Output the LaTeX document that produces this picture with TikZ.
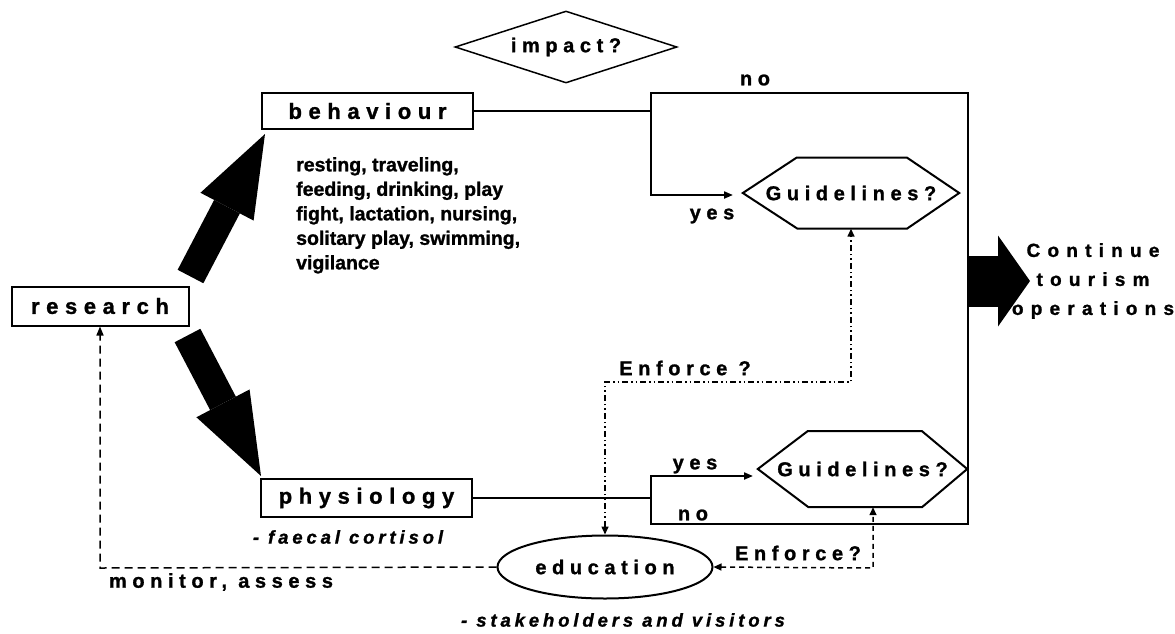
\documentclass[tikz,border=0pt]{standalone}
\usepackage{fontspec}
\setmainfont{Liberation Sans}[FakeBold=1.2]
\newcommand\spaced[2]{\fontsize{#1}{#1}\selectfont\bfseries\addfontfeatures{LetterSpace=#2}}
\usetikzlibrary{arrows.meta, shapes.geometric}

\begin{document}
\begin{tikzpicture}[x=1pt,y=-1pt,
  box/.style={draw, line width=2pt, rectangle, inner sep=0pt, font=\spaced{22}{30}},
  query/.style={draw, line width=1.5pt, inner sep=0pt, font=\spaced{20}{28}},
  hexlbl/.style={inner sep=0pt, font=\spaced{20}{28}},
  edgelbl/.style={inner sep=0pt, font=\spaced{20}{28}},
  note/.style={inner sep=0pt, font=\itshape\spaced{18.5}{21}},
  flow/.style={line width=2pt},
  tip/.style={-{Triangle[length=9pt,width=7pt]}},
  both/.style={{Triangle[length=8pt,width=7pt]}-{Triangle[length=8pt,width=7pt]}},
  bigarrow/.style={line width=29pt, -{Triangle[length=82pt,width=60pt,line width=0pt]}},
  enfA/.style={line width=1.5pt, dash pattern=on 6pt off 3pt on 1.5pt off 3pt on 1.5pt off 3pt},
  enfB/.style={line width=1.5pt, dash pattern=on 5pt off 4pt},
  mon/.style={line width=1.5pt, dash pattern=on 8pt off 5pt}]
\useasboundingbox (0,0) rectangle (1175,633);

\node[box, minimum width=177, minimum height=39] (research) at (100,306) {research};
\node[box, minimum width=211, minimum height=36] (behaviour) at (367.5,111) {behaviour};
\node[box, minimum width=211, minimum height=38] (physiology) at (366.5,498) {physiology};
\node[query, diamond, aspect=3.08, minimum width=222, minimum height=72] (impact) at (566,47) {impact?};
\node[hexlbl, minimum width=216, minimum height=71] (guideA) at (851,193) {Guidelines?};
\node[hexlbl, minimum width=209, minimum height=76] (guideB) at (862.5,469) {Guidelines?};
\node[query, ellipse, line width=2pt, minimum width=215, minimum height=63] (education) at (605,567) {education};

\node[anchor=north west, align=left, inner sep=0pt, font=\bfseries\fontsize{19.5}{24.5}\selectfont] (acts) at (296,157)
  {resting, traveling,\\feeding, drinking, play\\fight, lactation, nursing,\\solitary play, swimming,\\vigilance};
\node[note] (cortisol) at (348,537) {- faecal cortisol};
\node[note] (visitors) at (623,620) {- stakeholders and visitors};
\node[align=center, inner sep=0pt, font={\spaced{19}{38}\setlength\baselineskip{29pt}}] (exit) at (1093,281) {Continue\\tourism\\operations};

\node[edgelbl] (noA) at (755,80) {no};
\node[edgelbl] (yesA) at (712,216) {yes};
\node[edgelbl] (yesB) at (695,466) {yes};
\node[edgelbl] (noB) at (693,515) {no};
\node[edgelbl] (askA) at (685,368) {Enforce ?};
\node[edgelbl] (askB) at (798,553) {Enforce?};
\node[edgelbl] (monitor) at (221,582) {monitor, assess};

\coordinate (splitA) at (651,111);
\coordinate (cornerA) at (651,93);
\coordinate (turnA) at (651,195);
\coordinate (endA) at (733,195);
\coordinate (edgeA) at (968,93);
\coordinate (edgeB) at (968,524);
\coordinate (cornerB) at (651,524);
\coordinate (splitB) at (651,498);
\coordinate (turnB) at (651,476);
\coordinate (endB) at (753,476);
\coordinate (exitbase) at (968,281);
\coordinate (exittip) at (1030,281);
\coordinate (enfA1) at (605,382);
\coordinate (enfA2) at (851,382);
\coordinate (enfB) at (873,568);
\coordinate (monB) at (100,568);

\draw[line width=2pt] (guideA.west) -- ++(54,-35.5) -- ++(110,0) -- (guideA.east) -- ++(-52,35.5) -- ++(-110,0) -- cycle;
\draw[line width=2pt] (guideB.west) -- ++(50,-38) -- ++(114,0) -- (guideB.east) -- ++(-45,38) -- ++(-114,0) -- cycle;

\draw[bigarrow] ([shift={(1,-9)}]research.north east) -- ([shift={(4,4)}]behaviour.south west);
\draw[bigarrow] ([shift={(-2,9)}]research.south east) -- ([shift={(1,-2)}]physiology.north west);
\draw[line width=51pt, -{Triangle[length=32pt,width=91pt,line width=0pt]}] (exitbase) -- (exittip);

\draw[flow] (behaviour) -- (splitA);
\draw[flow] (physiology) -- (splitB);
\draw[flow, {Triangle[length=9pt,width=7pt]}-{Triangle[length=9pt,width=7pt]}]
  (endA) -- (turnA) -- (cornerA) -- (edgeA) -- (edgeB) -- (cornerB) -- (turnB) -- (endB);

\draw[enfA, both] (education.north) -- (enfA1) -- (enfA2) -- (guideA.south);
\draw[enfB, both] (education.east) -- (enfB) -- (enfB |- guideB.south);
\draw[mon, tip] (education.west) -- (monB) -- (research.south);
\end{tikzpicture}
\end{document}
